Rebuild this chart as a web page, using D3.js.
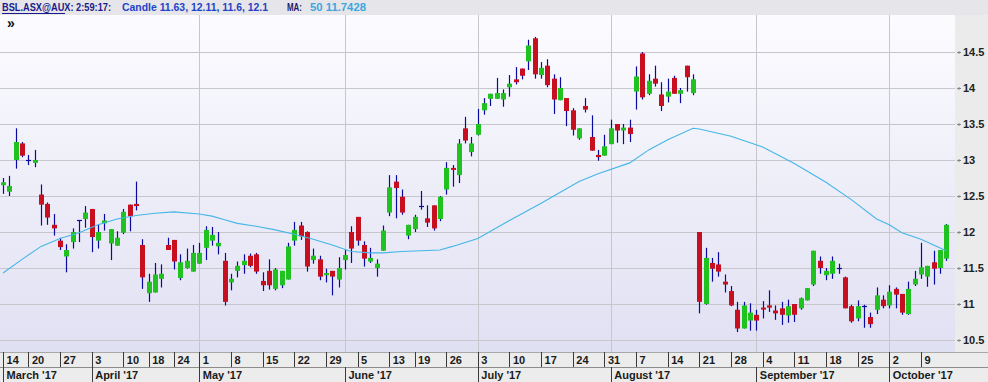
<!DOCTYPE html>
<html><head><meta charset="utf-8">
<script src="https://cdn.jsdelivr.net/npm/d3@7"></script>
<style>
body{margin:0;background:#fff;overflow:hidden}
svg{display:block}
text{font-family:"Liberation Sans",Arial,sans-serif}
</style>
</head><body><svg id="c" width="988" height="382"></svg>
<script>
// ---- trading days (ASX, 2017) ----
const marDays=[14,15,16,17,20,21,22,23,24,27,28,29,30,31];
const aprDays=[3,4,5,6,7,10,11,12,13,18,19,20,21,24,26,27,28];
const mayDays=[1,2,3,4,5,8,9,10,11,12,15,16,17,18,19,22,23,24,25,26,29,30,31];
const junDays=[1,2,5,6,7,8,9,13,14,15,16,19,20,21,22,23,26,27,28,29,30];
const julDays=[3,4,5,6,7,10,11,12,13,14,17,18,19,20,21,24,25,26,27,28,31];
const augDays=[1,2,3,4,7,8,9,10,11,14,15,16,17,18,21,22,23,24,25,28,29,30,31];
const sepDays=[1,4,5,6,7,8,11,12,13,14,15,18,19,20,21,22,25,26,27,28,29];
const octDays=[2,3,4,5,6,9,10,11,12,13];

// ---- OHLC series ----
const opens=[12.65,12.56,13.00,13.23,13.00,12.96,12.52,12.39,12.10,11.88,11.66,11.86,12.16,12.18,12.32,11.88,12.12,11.84,11.81,11.99,12.38,12.39,11.82,11.15,11.16,11.35,11.82,11.89,11.36,11.50,11.45,11.56,11.78,11.88,11.80,11.60,11.30,11.46,11.54,11.67,11.69,11.32,11.46,11.21,11.26,11.34,11.88,12.09,12.00,11.61,11.62,11.40,11.46,11.34,11.61,12.00,12.21,11.82,11.59,11.50,11.74,12.27,12.70,12.49,11.95,12.04,12.36,12.19,12.37,12.18,12.59,12.89,12.79,13.44,13.11,13.35,13.69,13.85,13.85,13.84,14.01,14.12,14.27,14.37,14.69,14.18,14.31,14.13,13.83,13.86,13.69,13.30,13.75,13.32,13.07,13.06,13.22,13.50,13.41,13.45,13.95,14.48,13.92,14.13,13.91,13.88,14.14,13.92,14.31,13.93,12.00,11.00,11.57,11.55,11.31,11.18,10.92,10.66,10.77,10.85,10.95,10.98,10.91,10.94,10.84,11.00,10.94,11.05,11.27,11.60,11.40,11.42,11.50,11.37,10.97,10.80,10.97,10.82,10.92,11.06,10.98,11.21,11.14,10.86,11.27,11.41,11.38,11.58,11.50,11.63];
const highs=[12.75,12.78,13.44,13.25,13.07,13.14,12.66,12.41,12.25,11.92,11.83,12.05,12.16,12.36,12.32,12.10,12.25,12.04,12.01,12.32,12.38,12.70,11.90,11.42,11.57,11.55,11.92,11.89,11.69,11.77,11.82,11.85,12.08,12.07,12.00,11.71,11.42,11.59,11.69,11.70,11.71,11.44,11.62,11.50,11.46,11.85,12.14,12.14,12.01,11.77,11.67,11.49,11.46,11.65,11.75,12.08,12.21,11.87,11.78,11.62,12.09,12.79,12.79,12.59,12.10,12.24,12.57,12.37,12.37,12.50,12.97,12.93,13.29,13.60,13.32,13.71,13.86,13.92,14.14,13.98,14.18,14.29,14.27,14.67,14.71,14.36,14.40,14.19,14.15,13.86,13.72,13.44,13.86,13.62,13.14,13.35,13.56,13.50,13.50,13.56,14.30,14.50,14.19,14.31,14.08,14.13,14.17,14.00,14.31,14.19,12.00,11.78,11.64,11.72,11.41,11.25,11.03,11.03,11.01,10.92,11.04,11.19,10.98,11.03,11.06,11.00,11.09,11.22,11.74,11.66,11.50,11.66,11.56,11.38,10.99,11.05,10.99,10.88,11.23,11.12,11.26,11.23,11.14,11.31,11.46,11.85,11.53,11.74,11.75,12.11];
const lows=[12.53,12.50,12.88,13.04,12.93,12.90,12.09,12.10,11.95,11.75,11.44,11.77,11.86,12.06,11.72,11.77,12.02,11.61,11.81,11.97,12.01,12.30,11.21,11.03,11.16,11.23,11.75,11.48,11.33,11.49,11.45,11.56,11.61,11.81,11.69,10.98,11.19,11.37,11.42,11.51,11.42,11.18,11.20,11.19,11.22,11.34,11.81,11.89,11.45,11.56,11.33,11.30,11.12,11.23,11.48,11.57,11.81,11.52,11.57,11.38,11.74,12.22,12.19,12.24,11.90,12.00,12.31,12.07,12.02,12.15,12.52,12.63,12.68,13.23,13.05,13.34,13.63,13.75,13.85,13.74,13.88,14.05,14.12,14.25,14.13,14.13,14.01,13.64,13.83,13.47,13.34,13.28,13.66,13.13,12.99,13.06,13.22,13.24,13.22,13.25,13.70,13.84,13.90,14.02,13.68,13.80,13.92,13.79,13.95,13.90,10.87,10.99,11.31,11.38,11.16,10.97,10.61,10.66,10.63,10.63,10.80,10.89,10.78,10.71,10.74,10.75,10.92,11.05,11.25,11.42,11.33,11.35,11.42,10.94,10.74,10.76,10.67,10.67,10.86,10.94,10.94,10.94,10.85,10.85,11.25,11.35,11.24,11.27,11.42,11.60];
const closes=[12.69,12.64,13.25,13.06,13.00,13.00,12.38,12.20,12.05,11.79,11.75,12.00,12.16,12.27,11.93,12.00,12.16,12.04,11.92,12.28,12.22,12.36,11.37,11.31,11.41,11.42,11.75,11.59,11.58,11.60,11.71,11.71,12.03,11.96,11.85,11.03,11.35,11.53,11.60,11.53,11.45,11.26,11.26,11.48,11.46,11.80,12.03,11.94,11.52,11.67,11.38,11.43,11.38,11.50,11.68,11.77,11.88,11.63,11.64,11.56,12.02,12.62,12.61,12.27,12.10,12.21,12.36,12.13,12.05,12.49,12.89,12.87,13.23,13.27,13.23,13.50,13.79,13.92,13.93,13.93,14.06,14.08,14.17,14.59,14.19,14.28,14.04,13.84,14.00,13.68,13.42,13.44,13.70,13.13,13.04,13.19,13.44,13.41,13.45,13.36,14.16,13.87,14.10,14.06,13.75,13.95,13.92,13.97,14.15,14.12,11.03,11.64,11.49,11.45,11.27,10.98,10.66,10.98,10.88,10.77,10.93,10.95,10.87,10.85,10.97,10.85,11.08,11.22,11.74,11.50,11.46,11.60,11.50,10.94,10.76,10.97,10.97,10.72,11.12,10.97,11.17,11.13,10.88,11.21,11.35,11.51,11.53,11.49,11.75,12.10];

// ---- 50-period moving average (read at sampled candles) ----
const maIdx=[0,3,6,9,12,15,18,21,24,27,31,33,35,37,40,43,46,49,52,55,58,60,63,66,69,71,75,80,85,89,91,94,99,102,105,109,110,115,120,125,130,134,138,140,142,145,147,149];
const maVal=[11.43,11.62,11.80,11.91,11.99,12.10,12.18,12.23,12.26,12.28,12.25,12.22,12.17,12.12,12.08,12.03,11.97,11.90,11.82,11.73,11.71,11.71,11.73,11.74,11.75,11.80,11.91,12.16,12.40,12.60,12.70,12.81,12.96,13.14,13.28,13.44,13.43,13.33,13.18,12.95,12.69,12.45,12.18,12.10,11.99,11.90,11.82,11.74];

// ---- axis / header labels ----
const yTicks=[10.5,11,11.5,12,12.5,13,13.5,14,14.5];
const gridMonths=[4,5,6,7,8,9];
const headerTicker="BSL.ASX@AUX:";
const headerTime="2:59:17:";
const maPeriod=50, maLast=11.7428;

// ---- build ----
const monthLists=[marDays,aprDays,mayDays,junDays,julDays,augDays,sepDays,octDays];
const dates=[];
monthLists.forEach((lst,k)=>lst.forEach(d=>dates.push(new Date(2017,2+k,d))));
const data=dates.map((d,i)=>({i,date:d,o:opens[i],h:highs[i],l:lows[i],c:closes[i]}));
const N=data.length;

const W=988,H=382;
const P={x0:0,x1:955,y0:15,y1:352};
const svg=d3.select("#c");
const x=d3.scaleLinear().domain([0,N-1]).range([3.07,3.07+(N-1)*6.33]);
const y=d3.scaleLinear().domain([10.5,14.5]).range([340,52]);

const defs=svg.append("defs");
const g1=defs.append("linearGradient").attr("id","bg").attr("x1",0).attr("y1",0).attr("x2",0).attr("y2",1);
g1.append("stop").attr("offset","0%").attr("stop-color","#fcfcff");
g1.append("stop").attr("offset","100%").attr("stop-color","#e0e0f3");
defs.append("clipPath").attr("id","clip").append("rect")
  .attr("x",P.x0).attr("y",P.y0).attr("width",P.x1-P.x0).attr("height",P.y1-P.y0);

svg.append("rect").attr("width",W).attr("height",H).attr("fill","#ececec");
svg.append("rect").attr("x",P.x0).attr("y",P.y0).attr("width",P.x1-P.x0).attr("height",P.y1-P.y0).attr("fill","url(#bg)");

// header
svg.append("rect").attr("width",W).attr("height",P.y0).attr("fill","#e6e6ea");
svg.append("text").attr("x",2).attr("y",11).attr("font-size",11).attr("font-weight","bold")
  .attr("fill","#1a1a8c").attr("textLength",109).attr("lengthAdjust","spacingAndGlyphs")
  .text(headerTicker+" "+headerTime);
svg.append("line").attr("x1",2).attr("x2",65).attr("y1",13.5).attr("y2",13.5)
  .attr("stroke","#1a1a8c").attr("stroke-width",1);
const hdr=[
  {t:`Candle ${opens[N-1]}, ${highs[N-1]}, ${lows[N-1]}, ${closes[N-1]}`,x:122,len:146,fill:"#1f42c8"},
  {t:"MA:",x:287,len:15,fill:"#1a1a6e"},
  {t:`${maPeriod} ${maLast}`,x:310,len:56,fill:"#3aa6e0"}
];
svg.append("g").selectAll("text").data(hdr).join("text")
  .attr("x",d=>d.x).attr("y",11).attr("font-size",11).attr("font-weight","bold")
  .attr("fill",d=>d.fill).attr("textLength",d=>d.len).attr("lengthAdjust","spacingAndGlyphs")
  .text(d=>d.t);

svg.append("text").attr("x",7).attr("y",28).attr("font-size",14).attr("font-weight","bold")
  .attr("fill","#111").text("\u00bb");

// grid
const plot=svg.append("g").attr("clip-path","url(#clip)");
plot.append("g").selectAll("line").data(yTicks).join("line")
  .attr("x1",P.x0).attr("x2",P.x1).attr("y1",d=>Math.round(y(d))+0.5).attr("y2",d=>Math.round(y(d))+0.5)
  .attr("stroke","#c6c6cc").attr("stroke-width",1);
const monthStart=data.filter((d,k)=>k===0||d.date.getMonth()!==data[k-1].date.getMonth());
plot.append("g").selectAll("line").data(monthStart.filter(d=>gridMonths.includes(d.date.getMonth()))).join("line")
  .attr("x1",d=>Math.round(x(d.i))+0.5).attr("x2",d=>Math.round(x(d.i))+0.5).attr("y1",P.y0).attr("y2",P.y1)
  .attr("stroke","#c6c6cc").attr("stroke-width",1);

// candles
const cg=plot.append("g");
const wickCol="#0a0a9e", upCol="#1fc21f", dnCol="#c80f1f";
cg.selectAll("line.w").data(data).join("line").attr("class","w")
  .attr("x1",d=>Math.round(x(d.i))+0.5).attr("x2",d=>Math.round(x(d.i))+0.5)
  .attr("y1",d=>y(d.h)).attr("y2",d=>y(d.l)).attr("stroke",wickCol).attr("stroke-width",1.2);
cg.selectAll("rect.b").data(data.filter(d=>d.o!==d.c)).join("rect").attr("class","b")
  .attr("x",d=>Math.round(x(d.i))-2).attr("width",5)
  .attr("y",d=>y(Math.max(d.o,d.c)))
  .attr("height",d=>Math.max(2,Math.abs(y(d.o)-y(d.c))))
  .attr("fill",d=>d.c>d.o?upCol:dnCol);
cg.selectAll("line.dj").data(data.filter(d=>d.o===d.c)).join("line").attr("class","dj")
  .attr("x1",d=>Math.round(x(d.i))-2).attr("x2",d=>Math.round(x(d.i))+3)
  .attr("y1",d=>Math.round(y(d.c))+0.5).attr("y2",d=>Math.round(y(d.c))+0.5)
  .attr("stroke",wickCol).attr("stroke-width",1.2);

// MA line
const ma=maIdx.map((k,j)=>({i:k,v:maVal[j]}));
plot.append("path").datum(ma)
  .attr("d",d3.line().x(d=>x(d.i)).y(d=>y(d.v)))
  .attr("fill","none").attr("stroke","#45b6e6").attr("stroke-width",1.1);

// right axis
svg.append("rect").attr("x",P.x1).attr("y",P.y0).attr("width",W-P.x1).attr("height",P.y1-P.y0).attr("fill","#ebebeb");
const ya=svg.append("g").attr("transform",`translate(${P.x1+2},0)`)
  .call(d3.axisRight(y).tickValues(yTicks).tickSize(4).tickPadding(2).tickFormat(d3.format("")));
ya.select(".domain").remove();
ya.selectAll("line").attr("stroke","#888");
ya.selectAll(".tick").append("line").attr("x1",2).attr("x2",2).attr("y1",-1.5).attr("y2",1.5).attr("stroke","#888");
ya.selectAll("text").attr("font-size",11).attr("font-weight","bold").attr("fill","#222")
  .attr("font-family","'Liberation Sans',Arial,sans-serif");

// bottom axes
svg.append("rect").attr("x",0).attr("y",P.y1).attr("width",W).attr("height",H-P.y1).attr("fill","#ececec");
svg.append("line").attr("x1",0).attr("x2",W).attr("y1",P.y1+0.5).attr("y2",P.y1+0.5).attr("stroke","#a8a8a8");
svg.append("line").attr("x1",0).attr("x2",W).attr("y1",367.5).attr("y2",367.5).attr("stroke","#8c8c8c");
const weekStart=data.filter((d,k)=>k===0||d.date.getDay()<data[k-1].date.getDay()||(d.date-data[k-1].date)>3*864e5);
const xa=svg.append("g").attr("transform",`translate(0,${P.y1})`)
  .call(d3.axisBottom(x).tickValues(weekStart.map(d=>d.i)).tickSize(15).tickFormat(i=>dates[i].getDate()));
const monthFmt=d3.timeFormat("%B '%y");
const xm=svg.append("g").attr("transform","translate(0,367)")
  .call(d3.axisBottom(x).tickValues(monthStart.map(d=>d.i)).tickSize(15).tickFormat(i=>monthFmt(dates[i])));
[xa,xm].forEach(g=>{
  g.select(".domain").remove();
  g.selectAll(".tick line").attr("stroke","#3a3a3a").attr("shape-rendering","crispEdges");
  g.selectAll("text").attr("text-anchor","start").attr("x",3).attr("y",11.5).attr("dy",0)
    .attr("font-size",11).attr("font-weight","bold").attr("fill","#1a1a1a")
    .attr("font-family","'Liberation Sans',Arial,sans-serif");
});
</script>
</body></html>
